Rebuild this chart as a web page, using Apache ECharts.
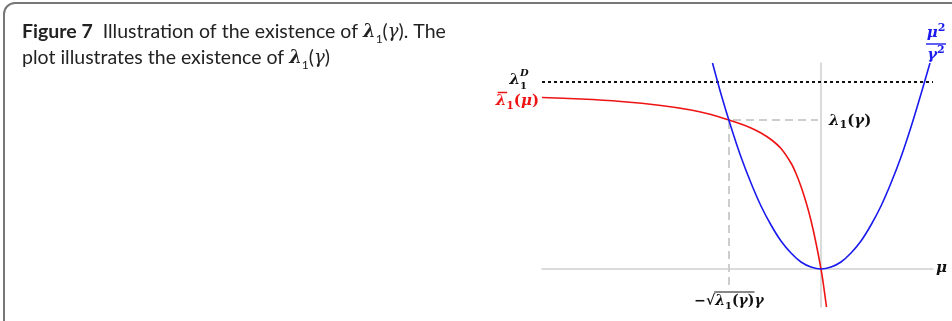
<!DOCTYPE html>
<html><head><meta charset="utf-8">
<script src="https://cdn.jsdelivr.net/npm/echarts@6/dist/echarts.min.js"></script>
<style>html,body{margin:0;padding:0;background:#fff}#c{width:952px;height:321px}</style>
</head><body><div id="c"></div>
<script>
// red curve: lambda-bar_1(mu)
const curveMu = [-2.79, -2.4, -2.0, -1.6, -1.3, -1.1, -0.92, -0.8, -0.7, -0.6, -0.5, -0.4, -0.3, -0.25, -0.2, -0.15, -0.1, -0.05, 0, 0.025, 0.055];
const curveLambda = [1.715, 1.70, 1.675, 1.635, 1.59, 1.545, 1.49, 1.45, 1.41, 1.36, 1.295, 1.205, 1.06, 0.955, 0.825, 0.67, 0.485, 0.26, 0, -0.16, -0.38];
// blue parabola: mu^2 / gamma^2
const paraMu = [-1.085, -1.0, -0.9, -0.8, -0.7, -0.6, -0.5, -0.4, -0.3, -0.2, -0.1, 0, 0.1, 0.2, 0.3, 0.4, 0.5, 0.6, 0.7, 0.8, 0.9, 1.0, 1.09];
const paraVal = [2.06, 1.75, 1.42, 1.12, 0.86, 0.63, 0.44, 0.28, 0.16, 0.07, 0.02, 0, 0.02, 0.07, 0.16, 0.28, 0.44, 0.63, 0.86, 1.12, 1.42, 1.75, 2.06];
// reference levels
const lambdaD = 1.87;
const lambdaGamma = 1.49;
const muGamma = -0.92;
const dashBottom = -0.16;
const muRange = [-2.79, 1.12];
const valRange = [-0.38, 2.06];

const zip = (a, b) => a.map((v, i) => [v, b[i]]);
const MF = '"DejaVu Serif", "Liberation Serif", serif';
const TF = 'Lato, "Noto Sans", sans-serif';
const RED = '#ee1414', BLUE = '#1a1aee', INK = '#111';

const chart = echarts.init(document.getElementById('c'), null, { renderer: 'canvas' });
const hidden = { show: false };
chart.setOption({
  animation: false,
  grid: { left: 542, right: 19, top: 63, bottom: 14 },
  xAxis: {
    type: 'value', min: muRange[0], max: muRange[1],
    axisLine: { onZero: true, lineStyle: { color: '#cfcfcf', width: 1.5 } },
    axisTick: hidden, axisLabel: hidden, splitLine: hidden
  },
  yAxis: {
    type: 'value', min: valRange[0], max: valRange[1],
    axisLine: { show: true, onZero: true, lineStyle: { color: '#cfcfcf', width: 1.5 } },
    axisTick: hidden, axisLabel: hidden, splitLine: hidden
  },
  series: [
    {
      type: 'line', data: [[muRange[0], lambdaD], [muRange[1], lambdaD]],
      symbol: 'none', lineStyle: { color: INK, width: 2, type: [3, 3] }, z: 2
    },
    {
      type: 'line', data: [[muGamma, dashBottom], [muGamma, lambdaGamma], [-0.03, lambdaGamma]],
      symbol: 'none', lineStyle: { color: '#cdcdcd', width: 2, type: [8, 5] }, z: 1
    },
    {
      type: 'line', data: zip(curveMu, curveLambda), smooth: 0.25,
      symbol: 'none', lineStyle: { color: RED, width: 1.6 }, z: 3
    },
    {
      type: 'line', data: zip(paraMu, paraVal), smooth: 0.3,
      symbol: 'none', lineStyle: { color: BLUE, width: 1.6 }, z: 4
    }
  ]
});

const px = (m, v) => chart.convertToPixel({ gridIndex: 0 }, [m, v]);
const ctx = document.createElement('canvas').getContext('2d');
const measure = (font, s) => { ctx.font = font; return ctx.measureText(s).width; };

const mathRich = (color, fs, ss) => ({
  l: { fontFamily: MF, fontSize: fs, fontWeight: 'bold', fontStyle: 'italic', fill: color, lineHeight: 20 },
  n: { fontFamily: MF, fontSize: fs, fontWeight: 'bold', fill: color, lineHeight: 20 },
  s: { fontFamily: MF, fontSize: ss, fontWeight: 'bold', fill: color, lineHeight: 13, verticalAlign: 'bottom' },
  p: { fontFamily: MF, fontSize: ss, fontWeight: 'bold', fill: color, lineHeight: 13, verticalAlign: 'top' }
});
const fonts = (fs, ss) => ({ L: `italic bold ${fs}px ${MF}`, N: `bold ${fs}px ${MF}`, S: `bold ${ss}px ${MF}` });

const pRed = px(curveMu[0], curveLambda[0]);
const pD = px(muRange[0], lambdaD);
const pG = px(0, lambdaGamma);
const pMu = px(muRange[1], 0);
const pTop = px(paraMu[paraMu.length - 1], paraVal[paraVal.length - 1]);
const pStar = px(muGamma, dashBottom);

// left label lambda-bar_1(mu): measure to place the bar over lambda
const f15 = fonts(15, 11);
const wLam = measure(f15.L, 'λ');
const wRedLbl = wLam + measure(f15.S, '1') + measure(f15.N, '(') + measure(f15.L, 'μ') + measure(f15.N, ')');
const redX = pRed[0] - 3, redY = pRed[1] + 4;

// bottom label: -sqrt(lambda1(gamma)) gamma
const f14 = fonts(14, 10);
const wPre = measure(f14.N, '−√');
const wRad = measure(f14.L, 'λ') + measure(f14.S, '1') + measure(f14.N, '(') + measure(f14.L, 'γ') + measure(f14.N, ')');
const wTot = wPre + wRad + measure(f14.L, 'γ');
const sqX = pStar[0] - wTot / 2;
const sqY = pStar[1] + 16;

const graphics = [
  { type: 'rect', shape: { x: 4, y: 3, width: 1200, height: 600, r: 11 }, style: { fill: 'none', stroke: '#777', lineWidth: 2 }, z: 0 },
  {
    type: 'text', x: 22, y: 19, z: 5,
    style: {
      text: '{b|Figure 7}  Illustration of the existence of {l|λ}{s|1}({g|γ}). The\nplot illustrates the existence of {l|λ}{s|1}({g|γ})',
      font: `19.5px ${TF}`, fill: '#222', lineHeight: 26, verticalAlign: 'top',
      rich: {
        b: { fontFamily: TF, fontSize: 19.5, fontWeight: 'bold', fill: '#222', lineHeight: 26 },
        l: { fontFamily: MF, fontSize: 18, fontWeight: 'bold', fontStyle: 'italic', fill: '#222', lineHeight: 26 },
        g: { fontFamily: MF, fontSize: 18, fontStyle: 'italic', fill: '#222', lineHeight: 26 },
        s: { fontFamily: TF, fontSize: 12, fill: '#222', lineHeight: 18, verticalAlign: 'bottom' }
      }
    }
  },
  {
    type: 'text', x: redX, y: redY, z: 5,
    style: { text: '{l|λ}{s|1}{n|(}{l|μ}{n|)}', align: 'right', verticalAlign: 'middle', rich: mathRich(RED, 15, 11) }
  },
  { type: 'line', z: 5, shape: { x1: redX - wRedLbl + 2, y1: redY - 9, x2: redX - wRedLbl + wLam + 1, y2: redY - 9 }, style: { stroke: RED, lineWidth: 1.5 } },
  {
    type: 'text', x: pD[0] - 22, y: pD[1] - 2, z: 5,
    style: { text: '{l|λ}', align: 'right', verticalAlign: 'middle', rich: mathRich(INK, 15, 11) }
  },
  { type: 'text', x: pD[0] - 22, y: pD[1] - 9, z: 5, style: { text: 'D', font: `italic bold 10px ${MF}`, fill: INK, align: 'left', verticalAlign: 'middle' } },
  { type: 'text', x: pD[0] - 22, y: pD[1] + 4, z: 5, style: { text: '1', font: `bold 10px ${MF}`, fill: INK, align: 'left', verticalAlign: 'middle' } },
  {
    type: 'text', x: pG[0] + 8, y: pG[1] + 1, z: 5,
    style: { text: '{l|λ}{s|1}{n|(}{l|γ}{n|)}', align: 'left', verticalAlign: 'middle', rich: mathRich(INK, 15, 11) }
  },
  {
    type: 'text', x: pMu[0] + 3, y: pMu[1] - 1, z: 5,
    style: { text: '{l|μ}', align: 'left', verticalAlign: 'middle', rich: mathRich(INK, 15, 11) }
  },
  {
    type: 'text', x: sqX, y: sqY, z: 5,
    style: { text: '{n|−√}{l|λ}{s|1}{n|(}{l|γ}{n|)}{l|γ}', align: 'left', verticalAlign: 'middle', rich: mathRich(INK, 14, 10) }
  },
  { type: 'line', z: 5, shape: { x1: sqX + wPre - 1, y1: sqY - 9, x2: sqX + wPre + wRad, y2: sqY - 9 }, style: { stroke: INK, lineWidth: 1.2 } },
  {
    type: 'text', x: pTop[0] + 6, y: pTop[1] - 30, z: 5,
    style: { text: '{l|μ}{p|2}', align: 'center', verticalAlign: 'middle', rich: mathRich(BLUE, 15, 11) }
  },
  { type: 'line', z: 5, shape: { x1: pTop[0] - 4, y1: pTop[1] - 19, x2: pTop[0] + 16, y2: pTop[1] - 19 }, style: { stroke: BLUE, lineWidth: 1.4 } },
  {
    type: 'text', x: pTop[0] + 6, y: pTop[1] - 8, z: 5,
    style: { text: '{l|γ}{p|2}', align: 'center', verticalAlign: 'middle', rich: mathRich(BLUE, 15, 11) }
  }
];
chart.setOption({ graphic: graphics });
</script>
</body></html>
